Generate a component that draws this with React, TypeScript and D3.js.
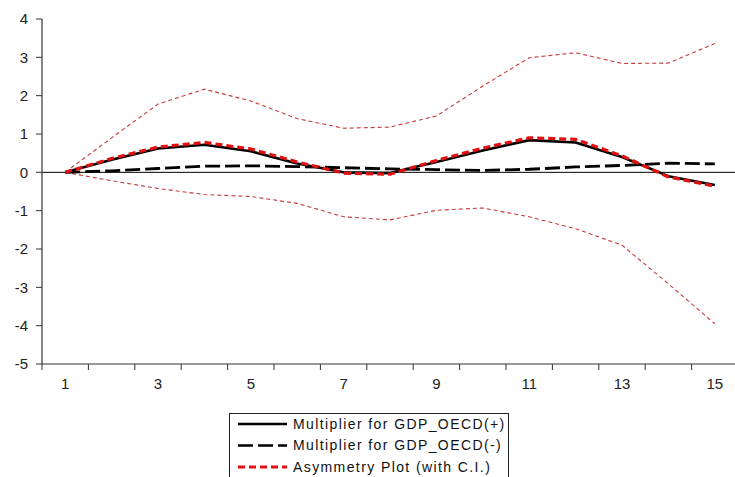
import React from 'react';
import * as d3 from 'd3';

const periods = [1, 2, 3, 4, 5, 6, 7, 8, 9, 10, 11, 12, 13, 14, 15];
const yTicks = [4, 3, 2, 1, 0, -1, -2, -3, -4, -5];

const multPos = [0, 0.33, 0.62, 0.72, 0.55, 0.23, 0.0, -0.02, 0.27, 0.57, 0.84, 0.78, 0.4, -0.1, -0.33];
const multNeg = [0, 0.04, 0.1, 0.16, 0.17, 0.15, 0.12, 0.09, 0.07, 0.05, 0.08, 0.14, 0.18, 0.24, 0.22];
const asym = [0, 0.36, 0.66, 0.78, 0.61, 0.27, -0.02, -0.05, 0.31, 0.63, 0.9, 0.86, 0.43, -0.12, -0.36];
const ciUpper = [0, 0.9, 1.78, 2.17, 1.86, 1.4, 1.15, 1.18, 1.47, 2.25, 2.99, 3.12, 2.84, 2.85, 3.36];
const ciLower = [0, -0.22, -0.42, -0.58, -0.63, -0.81, -1.16, -1.24, -0.99, -0.93, -1.16, -1.47, -1.9, -2.91, -3.95];

const legendItems = [
  { label: 'Multiplier for GDP_OECD(+)', color: '#000', width: 2.6, dash: null },
  { label: 'Multiplier for GDP_OECD(-)', color: '#000', width: 2.6, dash: '15 5' },
  { label: 'Asymmetry Plot (with C.I.)', color: '#e01010', width: 3, dash: '7 4' },
];

const W = 735;
const H = 477;
const font = 'Arial, "Liberation Sans", Helvetica, sans-serif';

const App = () => {
  const x = d3.scaleBand<number>().domain(periods).range([42, 738]).paddingInner(0);
  const bw = x.bandwidth();
  const cx = (d: number) => (x(d) as number) + bw / 2;
  const y = d3.scaleLinear().domain([-5, 4]).range([364, 19]);

  const line = d3
    .line<number>()
    .x((_, i) => cx(periods[i]))
    .y((v) => y(v));

  return (
    <svg
      width={W}
      height={H}
      style={{ position: 'absolute', left: 0, top: 0, background: '#fff' }}
      fontFamily={font}
    >
      {/* zero line */}
      <line x1={42} x2={W} y1={y(0)} y2={y(0)} stroke="#000" strokeWidth={1} />

      {/* confidence bands */}
      <path d={line(ciUpper) || ''} fill="none" stroke="#c83a3a" strokeWidth={1.1} strokeDasharray="4 3" strokeLinejoin="round" />
      <path d={line(ciLower) || ''} fill="none" stroke="#c83a3a" strokeWidth={1.1} strokeDasharray="4 3" strokeLinejoin="round" />

      {/* multipliers */}
      <path d={line(multNeg) || ''} fill="none" stroke="#000" strokeWidth={2.8} strokeDasharray="15 5" strokeLinejoin="round" />
      <path d={line(multPos) || ''} fill="none" stroke="#000" strokeWidth={2.6} strokeLinejoin="round" />
      <path d={line(asym) || ''} fill="none" stroke="#e01010" strokeWidth={3.2} strokeDasharray="7 4" strokeLinejoin="round" />

      {/* y axis */}
      <line x1={42} x2={42} y1={y(4)} y2={y(-5)} stroke="#333" strokeWidth={1.2} />
      {yTicks.map((t) => (
        <g key={t}>
          <line x1={36} x2={42} y1={y(t)} y2={y(t)} stroke="#333" strokeWidth={1} />
          <text x={28} y={y(t)} dy="0.35em" textAnchor="end" fontSize={15} fill="#222">
            {t}
          </text>
        </g>
      ))}

      {/* x axis */}
      <line x1={42} x2={W} y1={y(-5)} y2={y(-5)} stroke="#333" strokeWidth={1.2} />
      {periods.map((p) => (
        <g key={p}>
          <line x1={x(p) as number} x2={x(p) as number} y1={y(-5)} y2={y(-5) + 6} stroke="#333" strokeWidth={1} />
          {p % 2 === 1 && (
            <text x={cx(p)} y={y(-5) + 25} textAnchor="middle" fontSize={15} fill="#222">
              {p}
            </text>
          )}
        </g>
      ))}

      {/* legend */}
      <rect x={229.5} y={413.5} width={279} height={80} fill="none" stroke="#222" strokeWidth={1} />
      {legendItems.map((it, i) => {
        const ly = 424 + i * 21.5;
        return (
          <g key={it.label}>
            <line
              x1={238}
              x2={287}
              y1={ly}
              y2={ly}
              stroke={it.color}
              strokeWidth={it.width}
              strokeDasharray={it.dash || undefined}
            />
            <text x={293} y={ly} dy="0.35em" fontSize={14} letterSpacing={1.4} fill="#111">
              {it.label}
            </text>
          </g>
        );
      })}
    </svg>
  );
};

export default App;
